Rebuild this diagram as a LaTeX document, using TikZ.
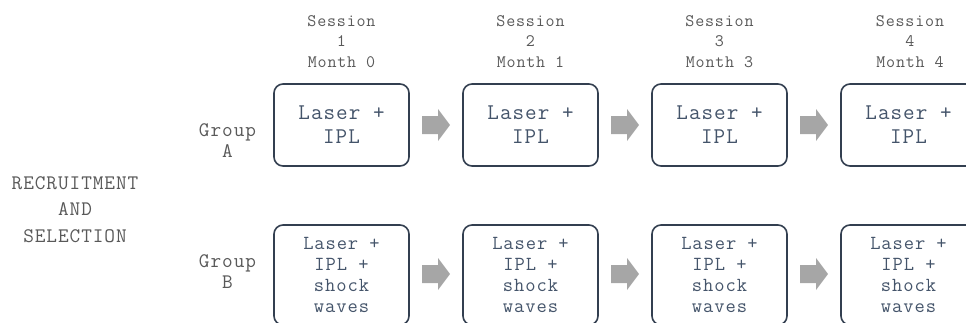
\documentclass[tikz,border=0pt]{standalone}
\usepackage{fontspec}
% typewriter face, tracked out to the usual 0.6em mono advance
\setmonofont{Latin Modern Mono}[Scale=1.05, LetterSpace=4.6]
\usetikzlibrary{calc}

\definecolor{labelgray}{HTML}{595959}
\definecolor{boxtext}{HTML}{44546A}
\definecolor{boxline}{HTML}{333F50}
\definecolor{arrowgray}{HTML}{A6A6A6}

\tikzset{
  treatbox/.style={draw=boxline, line width=1.6pt, rounded corners=9pt,
    minimum width=135pt, inner sep=0pt, align=center, text=boxtext},
  toptext/.style={font=\ttfamily\fontsize{21.4}{24}\selectfont},
  bottomtext/.style={font=\ttfamily\fontsize{19}{21}\selectfont},
  sessionlabel/.style={align=center, inner sep=0pt, text=labelgray,
    font=\ttfamily\fontsize{16.7}{20.5}\selectfont},
  grouplabel/.style={align=center, inner sep=0pt, text=labelgray,
    font=\ttfamily\fontsize{19.7}{21}\selectfont},
  sidelabel/.style={align=center, inner sep=0pt, text=labelgray,
    font=\ttfamily\fontsize{19.7}{26.5}\selectfont},
  flowarrow/.style={fill=arrowgray, draw=none}
}

% block arrow centred on the given coordinate, pointing right
\newcommand{\blockarrow}[1]{%
  \path[flowarrow] ($(#1)+(-14,-9)$) -- ++(16,0) -- ++(0,-7) -- ++(12,16)
    -- ++(-12,16) -- ++(0,-7) -- ++(-16,0) -- cycle;}

\begin{document}
\begin{tikzpicture}[x=1pt, y=-1pt]
  \useasboundingbox (0,0) rectangle (966,322);
  \clip (0,0) rectangle (966,322);

  % session headings
  \node[sessionlabel] (s1) at (341.5,41.5) {Session\\1\\Month 0};
  \node[sessionlabel] (s2) at (530.5,41.5) {Session\\2\\Month 1};
  \node[sessionlabel] (s3) at (719.5,41.5) {Session\\3\\Month 3};
  \node[sessionlabel] (s4) at (910,41.5) {Session\\4\\Month 4};

  % left labels
  \node[sidelabel] (recruit) at (75,209.5) {RECRUITMENT\\AND\\SELECTION};
  \node[grouplabel] (ga) at (227.5,140.5) {Group\\A};
  \node[grouplabel] (gb) at (227.5,271.5) {Group\\B};

  % group A: laser + IPL
  \foreach \i/\x in {1/341.5, 2/530.5, 3/719.5, 4/908.5}
    \node[treatbox, toptext, minimum height=82pt] (a\i) at (\x,125) {Laser +\\IPL};

  % group B: laser + IPL + shock waves
  \foreach \i/\x in {1/341.5, 2/530.5, 3/719.5, 4/908.5}
    \node[treatbox, bottomtext, minimum height=100pt] (b\i) at (\x,275)
      {Laser +\\IPL +\\shock\\waves};

  % block arrows between consecutive sessions
  \foreach \i/\j in {1/2, 2/3, 3/4} {
    \coordinate (fa\i) at ($(a\i.east)!0.5!(a\j.west)$);
    \coordinate (fb\i) at ($(b\i.east)!0.5!(b\j.west)+(0,-1)$);
    \blockarrow{fa\i}
    \blockarrow{fb\i}
  }
\end{tikzpicture}
\end{document}
